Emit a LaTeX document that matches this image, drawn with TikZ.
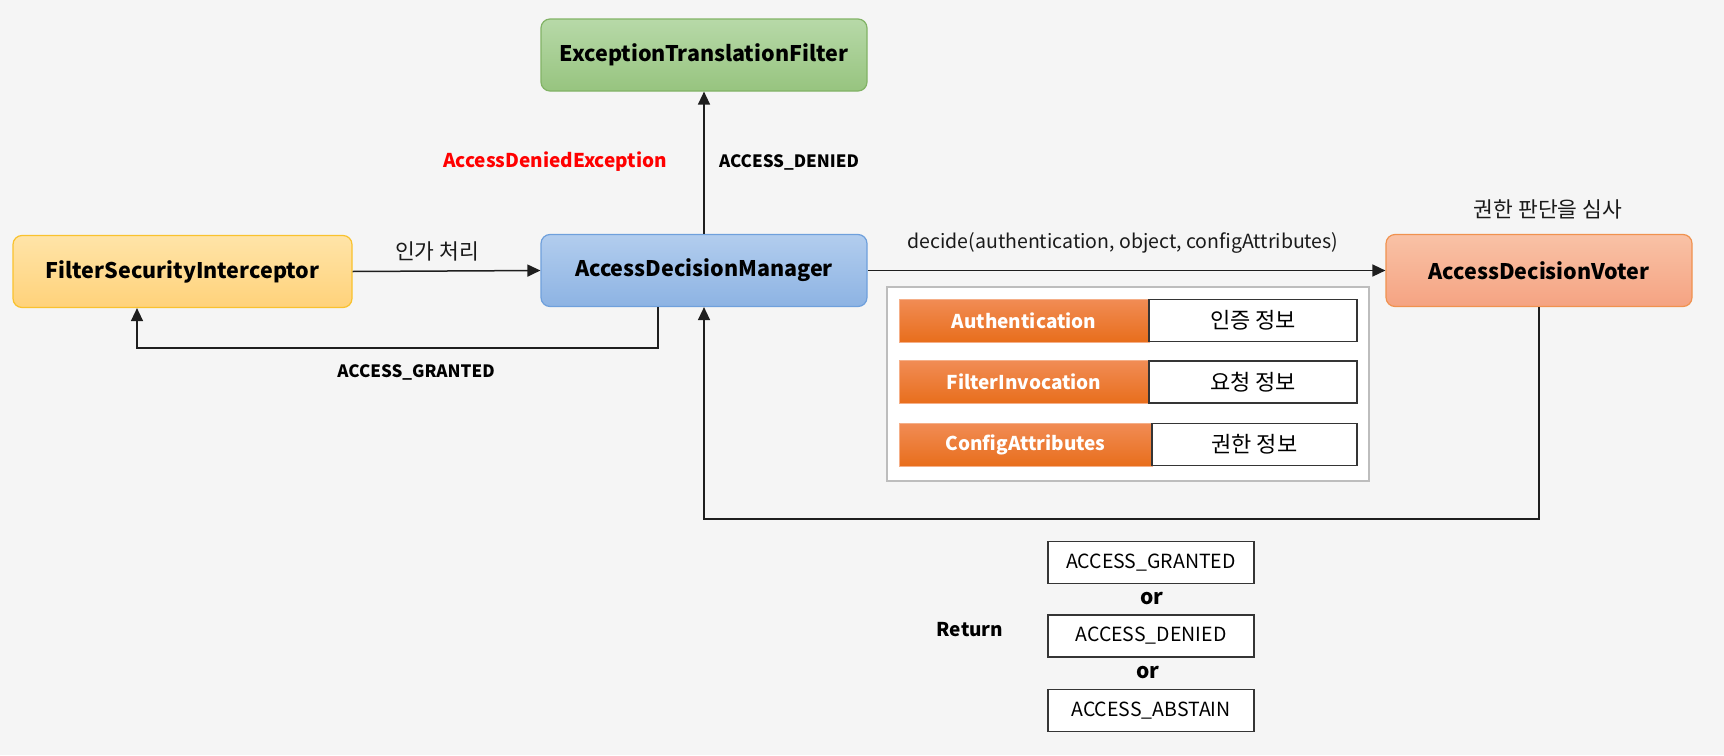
\documentclass[tikz,border=0pt]{standalone}
\usepackage{fontspec}
\setmainfont{Noto Sans CJK KR}
\usetikzlibrary{arrows.meta}
\definecolor{bg}{HTML}{F5F5F5}
\definecolor{lineC}{HTML}{1E1E1E}
\definecolor{gTop}{HTML}{B7D9A8}
\definecolor{gBot}{HTML}{97C47F}
\definecolor{gBrd}{HTML}{82B366}
\definecolor{bTop}{HTML}{B2CDEE}
\definecolor{bBot}{HTML}{8DB3E3}
\definecolor{bBrd}{HTML}{6FA0DC}
\definecolor{yTop}{HTML}{FFE4A8}
\definecolor{yBot}{HTML}{FFD27A}
\definecolor{yBrd}{HTML}{F9C22E}
\definecolor{oTop}{HTML}{F9C2A6}
\definecolor{oBot}{HTML}{F5A382}
\definecolor{oBrd}{HTML}{F0924F}
\definecolor{barTop}{HTML}{F18C55}
\definecolor{barBot}{HTML}{E86E1C}
\definecolor{contBrd}{HTML}{BDBDBD}
\definecolor{txt}{HTML}{1A1A1A}
\begin{document}
\begin{tikzpicture}[x=1pt,y=-1pt,
  boxfont/.style={font=\fontsize{21.5}{25}\selectfont\bfseries},
  comp/.style={rounded corners=9pt, inner sep=0pt, line width=1.2pt, minimum height=72pt, boxfont, text=black},
  greenbox/.style={comp, draw=gBrd, top color=gTop, bottom color=gBot},
  bluebox/.style={comp, draw=bBrd, top color=bTop, bottom color=bBot},
  yellowbox/.style={comp, draw=yBrd, top color=yTop, bottom color=yBot},
  orangebox/.style={comp, draw=oBrd, top color=oTop, bottom color=oBot},
  bar/.style={inner sep=0pt, minimum width=250pt, minimum height=43pt, top color=barTop, bottom color=barBot, draw=barTop!70!white, line width=0.6pt, text=white, font=\fontsize{19}{22}\selectfont\bfseries},
  infobox/.style={inner sep=0pt, minimum height=42pt, draw=lineC!90, fill=white, line width=1.5pt, font=\fontsize{22}{25}\selectfont},
  retbox/.style={inner sep=0pt, minimum width=206pt, minimum height=42pt, draw=lineC!90, fill=white, line width=1.3pt, font=\fontsize{19.5}{22}\selectfont},
  lbl/.style={inner sep=0pt, font=\fontsize{19.5}{22}\selectfont, text=txt},
  krlbl/.style={inner sep=0pt, font=\fontsize{21.5}{24}\selectfont, text=txt},
  blbl/.style={inner sep=0pt, font=\fontsize{17}{20}\selectfont\bfseries, text=black},
  arr/.style={draw=lineC, line width=1.5pt, -{Triangle[length=13pt,width=12pt]}},
  plain/.style={draw=lineC, line width=1.5pt}
]
\useasboundingbox (0,0) rectangle (1724,755);
\fill[bg] (0,0) rectangle (1724,755);

% main components
\node[greenbox, minimum width=326pt] (etf) at (704,55) {ExceptionTranslationFilter};
\node[yellowbox, minimum width=339pt] (fsi) at (182.5,271.5) {FilterSecurityInterceptor};
\node[bluebox, minimum width=326pt] (adm) at (704,270.5) {AccessDecisionManager};
\node[orangebox, minimum width=306pt] (adv) at (1539,270.5) {AccessDecisionVoter};

% container with parameters
\node[draw=contBrd, fill=white, line width=1.2pt, minimum width=482pt, minimum height=194pt, inner sep=0pt] (cont) at (1128,384) {};
\node[bar] (b1) at (1024,320.5) {Authentication};
\node[bar] (b2) at (1024,382) {FilterInvocation};
\node[bar, minimum width=253pt] (b3) at (1025.5,444.5) {ConfigAttributes};
\node[infobox, minimum width=208pt] (w1) at (1253,320.5) {인증 정보};
\node[infobox, minimum width=208pt] (w2) at (1253,382) {요청 정보};
\node[infobox, minimum width=205pt] (w3) at (1254.5,444.5) {권한 정보};

% return values
\node[retbox] (r1) at (1151,562.5) {ACCESS\_GRANTED};
\node[retbox] (r2) at (1151,636) {ACCESS\_DENIED};
\node[retbox] (r3) at (1151,710.5) {ACCESS\_ABSTAIN};
\node[blbl, font=\fontsize{21}{24}\selectfont\bfseries] (or1) at (1152,599) {or};
\node[blbl, font=\fontsize{21}{24}\selectfont\bfseries] (or2) at (1148,673) {or};
\node[blbl, font=\fontsize{19}{22}\selectfont\bfseries] (ret) at (970,630) {Return};

% connectors
\draw[arr] (fsi.east) -- (adm.west);
\draw[arr] (adm.north) -- (etf.south);
\draw[arr] (adm.east) -- (adv.west);
\draw[arr] ([xshift=-46pt]adm.south) -- ++(0,41) -| ([xshift=-45.5pt]fsi.south);
\draw[arr] (adv.south) -- ++(0,212) -| (adm.south);

% labels
\node[krlbl] (l1) at (437,251) {인가 처리};
\node[blbl] (l2) at (416,372) {ACCESS\_GRANTED};
\node[blbl, text=red, font=\fontsize{19}{22}\selectfont\bfseries] (l3) at (555,162) {AccessDeniedException};
\node[blbl] (l4) at (789,162) {ACCESS\_DENIED};
\node[lbl] (l5) at (1123,243) {decide(authentication, object, configAttributes)};
\node[krlbl] (l6) at (1548,209) {권한 판단을 심사};
\end{tikzpicture}
\end{document}
